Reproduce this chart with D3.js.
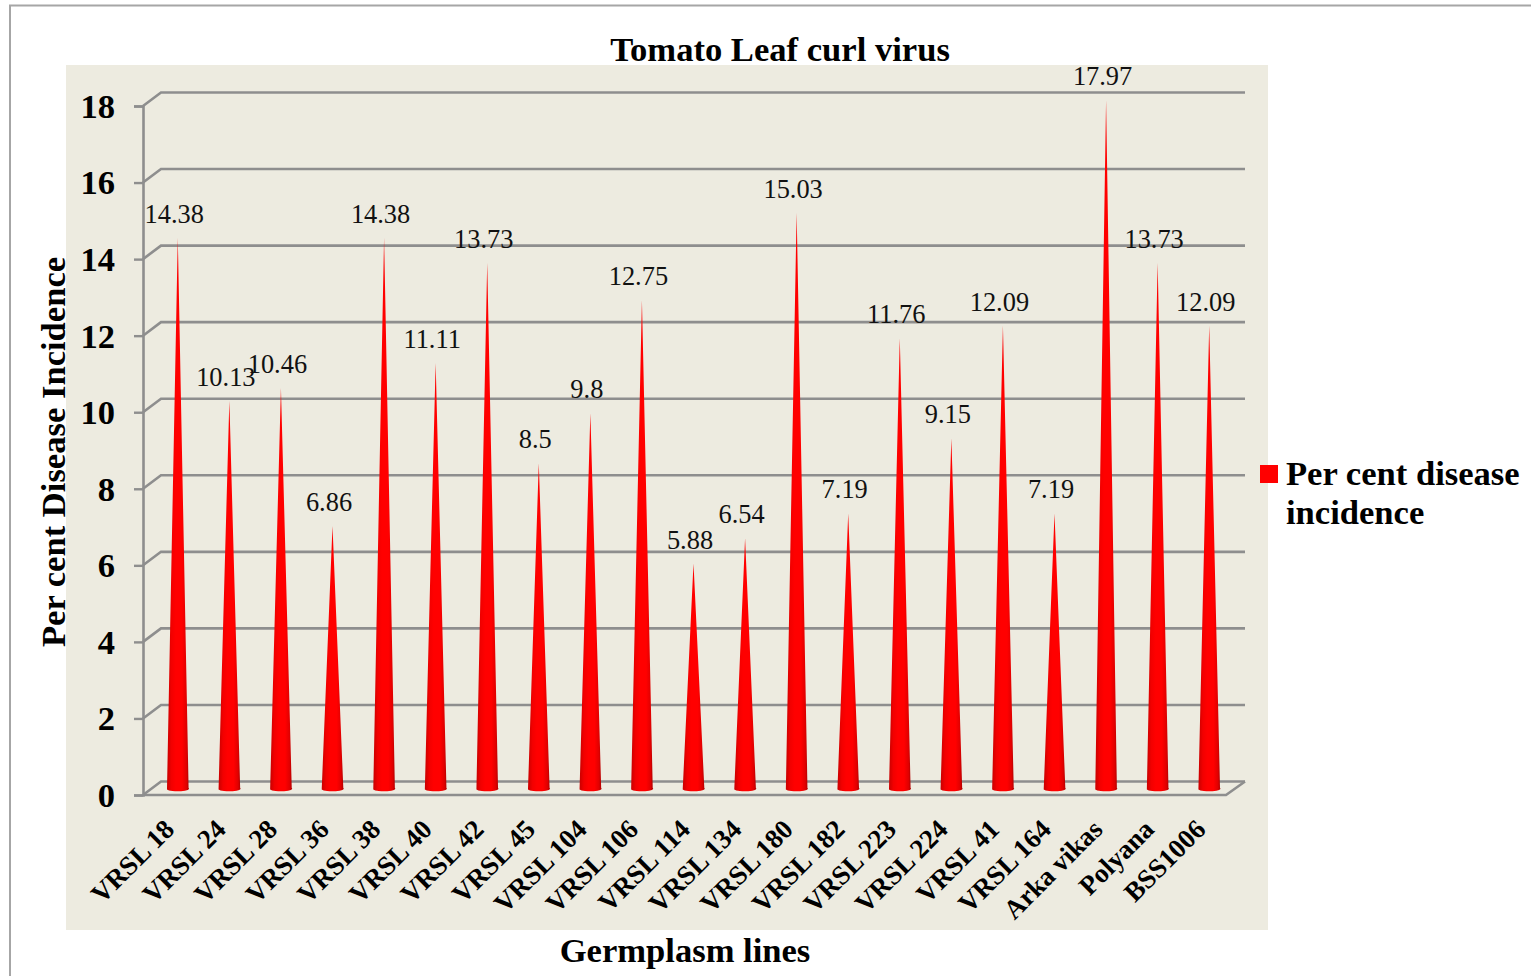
<!DOCTYPE html>
<html>
<head>
<meta charset="utf-8">
<script src="https://cdn.jsdelivr.net/npm/d3@7"></script>
<style>
  html, body { margin: 0; padding: 0; background: #fff; overflow: hidden; }
  svg { display: block; font-family: "Liberation Serif", serif; }
</style>
</head>
<body>
<svg id="chart"></svg>
<script>
// Values
const categories = ['VRSL 18', 'VRSL 24', 'VRSL 28', 'VRSL 36', 'VRSL 38', 'VRSL 40', 'VRSL 42',
    'VRSL 45', 'VRSL 104', 'VRSL 106', 'VRSL 114', 'VRSL 134', 'VRSL 180', 'VRSL 182',
    'VRSL 223', 'VRSL 224', 'VRSL 41', 'VRSL 164', 'Arka vikas', 'Polyana', 'BSS1006'];
const incidence = [14.38, 10.13, 10.46, 6.86, 14.38, 11.11, 13.73, 8.5, 9.8, 12.75, 5.88, 6.54,
    15.03, 7.19, 11.76, 9.15, 12.09, 7.19, 17.97, 13.73, 12.09];
const yTicks = [0, 2, 4, 6, 8, 10, 12, 14, 16, 18];
const legendLines = ['Per cent disease', 'incidence'];

const width = 1531;
const height = 976;

// Depth of the fake 3D floor
const depthX = 18;
const depthY = 13.5;
const gridColor = '#8e8e8e';

const svg = d3.select('#chart')
    .attr('width', width)
    .attr('height', height)
    .attr('viewBox', `0 0 ${width} ${height}`);

// Page frame
svg.append('path')
    .attr('d', d3.line()([[10, height], [10, 5.5], [width, 5.5]]))
    .attr('fill', 'none')
    .attr('stroke', '#a6a6a6')
    .attr('stroke-width', 2);

// Chart background
svg.append('rect')
    .attr('x', 66)
    .attr('y', 65)
    .attr('width', 1202)
    .attr('height', 865)
    .attr('fill', '#edebe0');

// Scales: front plane for the axes, cones sit half way back
const yFront = d3.scaleLinear().domain([0, 18]).range([795, 106]);
const yCone = d3.scaleLinear().domain([0, 18]).range([789, 99]);
const x = d3.scaleBand().domain(categories).range([152, 1235]);
const xFront = d3.scaleBand().domain(categories).range([143, 1226]);

// Gradient that makes the cones look round
const grad = svg.append('defs').append('linearGradient')
    .attr('id', 'coneFill')
    .attr('x1', '0%').attr('x2', '100%')
    .attr('y1', '0%').attr('y2', '0%');
[[0, '#c80000'], [0.2, '#f20000'], [0.4, '#ff0000'], [0.68, '#ff0000'], [0.88, '#e00000'], [1, '#a80000']]
    .forEach(s => grad.append('stop').attr('offset', s[0]).attr('stop-color', s[1]));

// Back wall grid lines with the diagonal back from the axis
const x0 = xFront.range()[0];
const x1 = xFront.range()[1];
svg.append('g')
    .selectAll('path')
    .data(yTicks)
    .join('path')
    .attr('d', d => d3.line()([[x0, yFront(d)], [x0 + depthX, yFront(d) - depthY], [x1 + depthX + 1, yFront(d) - depthY]]))
    .attr('fill', 'none')
    .attr('stroke', gridColor)
    .attr('stroke-width', 2.6);

// Floor front edge and right side
svg.append('path')
    .attr('d', d3.line()([[x1 + depthX + 1, yFront(0) - depthY], [x1, yFront(0)], [x0, yFront(0)]]))
    .attr('fill', 'none')
    .attr('stroke', gridColor)
    .attr('stroke-width', 2.6);

// Y axis
const yAxis = svg.append('g')
    .attr('transform', `translate(${x0}, 0)`)
    .call(d3.axisLeft(yFront).tickValues(yTicks).tickSize(9).tickPadding(19).tickFormat(d3.format('d')));
yAxis.selectAll('.domain')
    .attr('stroke', gridColor)
    .attr('stroke-width', 2.6);
yAxis.selectAll('.tick line')
    .attr('stroke', gridColor)
    .attr('stroke-width', 2.4);
yAxis.selectAll('.tick text')
    .attr('dy', '0.33em')
    .style('font-family', '"Liberation Serif", serif')
    .style('font-size', '34.5px')
    .style('font-weight', 'bold')
    .style('fill', '#000');

// Cones
const coneR = 10.8;
svg.append('g')
    .selectAll('path')
    .data(incidence)
    .join('path')
    .attr('d', (d, i) => {
        const cx = x(categories[i]) + x.bandwidth() / 2;
        const base = yCone(0);
        return `M${cx},${yCone(d)} L${cx + coneR},${base - 1} A${coneR},2.5 0 0 1 ${cx - coneR},${base + 0.5} Z`;
    })
    .attr('fill', 'url(#coneFill)');

// Value labels
svg.append('g')
    .selectAll('text')
    .data(incidence)
    .join('text')
    .attr('x', (d, i) => x(categories[i]) + x.bandwidth() / 2 - 3.5)
    .attr('y', d => yCone(d) - 15)
    .attr('text-anchor', 'middle')
    .style('font-size', '26.4px')
    .style('fill', '#111')
    .text(d => d);

// Category labels
const xAxis = svg.append('g')
    .attr('transform', `translate(0, ${yFront(0)})`)
    .call(d3.axisBottom(x).tickSize(0));
xAxis.select('.domain').remove();
xAxis.selectAll('.tick text')
    .attr('text-anchor', 'end')
    .attr('x', 0)
    .attr('y', 0)
    .attr('dy', 0)
    .attr('transform', 'translate(-2, 36) rotate(-45)')
    .style('font-family', '"Liberation Serif", serif')
    .style('font-size', '27px')
    .style('font-weight', 'bold')
    .style('fill', '#000');

// Title and axis titles
svg.append('text')
    .attr('x', 780)
    .attr('y', 61)
    .attr('text-anchor', 'middle')
    .style('font-size', '34.6px')
    .style('font-weight', 'bold')
    .text('Tomato Leaf curl virus');

svg.append('text')
    .attr('x', 685)
    .attr('y', 962)
    .attr('text-anchor', 'middle')
    .style('font-size', '34.6px')
    .style('font-weight', 'bold')
    .text('Germplasm lines');

svg.append('text')
    .attr('transform', 'translate(65, 452) rotate(-90)')
    .attr('text-anchor', 'middle')
    .style('font-size', '34.6px')
    .style('font-weight', 'bold')
    .text('Per cent Disease Incidence');

// Legend
svg.append('rect')
    .attr('x', 1260)
    .attr('y', 465)
    .attr('width', 18)
    .attr('height', 18)
    .attr('fill', '#ff0000');

svg.append('g')
    .selectAll('text')
    .data(legendLines)
    .join('text')
    .attr('x', 1286)
    .attr('y', (d, i) => 484.5 + i * 39.5)
    .style('font-size', '34.6px')
    .style('font-weight', 'bold')
    .text(d => d);
</script>
</body>
</html>
